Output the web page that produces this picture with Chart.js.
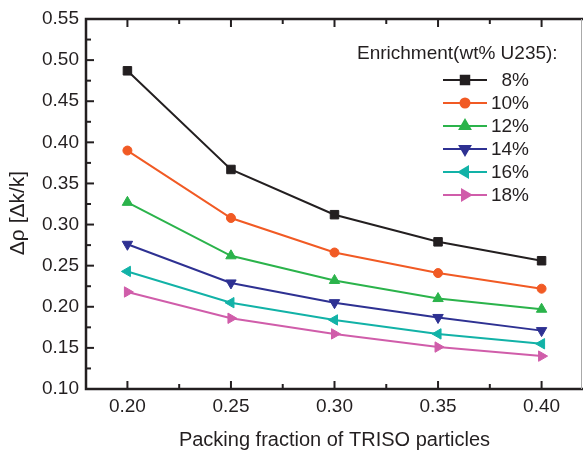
<!DOCTYPE html>
<html>
<head>
<meta charset="utf-8">
<script src="https://cdn.jsdelivr.net/npm/chart.js@4.4.0/dist/chart.umd.min.js"></script>
<style>
  html, body { margin: 0; padding: 0; background: #fff; }
</style>
</head>
<body>
<canvas id="myChart" width="583" height="453"></canvas>
<script>
var packing = [0.20, 0.25, 0.30, 0.35, 0.40];
var enrich8 = [0.487, 0.367, 0.312, 0.279, 0.256];
var enrich10 = [0.390, 0.308, 0.266, 0.241, 0.222];
var enrich12 = [0.327, 0.262, 0.232, 0.210, 0.197];
var enrich14 = [0.276, 0.229, 0.205, 0.187, 0.171];
var enrich16 = [0.243, 0.205, 0.184, 0.167, 0.155];
var enrich18 = [0.218, 0.186, 0.167, 0.151, 0.140];

var seriesLabels = ['8%', '10%', '12%', '14%', '16%', '18%'];
var legendTitle = 'Enrichment(wt% U235):';
var yTitle = 'Δρ [Δk/k]';

var xTicks = [0.20, 0.25, 0.30, 0.35, 0.40];
var xTickLabels = ['0.20', '0.25', '0.30', '0.35', '0.40'];
var xMinor = [0.225, 0.275, 0.325, 0.375];
var yTicks = [0.10, 0.15, 0.20, 0.25, 0.30, 0.35, 0.40, 0.45, 0.50, 0.55];
var yTickLabels = ['0.10', '0.15', '0.20', '0.25', '0.30', '0.35', '0.40', '0.45', '0.50', '0.55'];
var yMinor = [0.125, 0.175, 0.225, 0.275, 0.325, 0.375, 0.425, 0.475, 0.525];

var FONT = '"Liberation Sans", Arial, Helvetica, sans-serif';
var INK = '#231f20';

function series(label, values, color, style, rotation, radius) {
  return {
    label: label,
    data: packing.map(function (x, i) { return { x: x, y: values[i] }; }),
    borderColor: color,
    backgroundColor: color,
    borderWidth: 2,
    pointStyle: style,
    pointRotation: rotation,
    pointRadius: radius,
    pointBorderWidth: 1,
    pointBorderColor: color,
    pointBackgroundColor: color,
    tension: 0,
    clip: false
  };
}

var datasets = [
  series(seriesLabels[0], enrich8, '#231f20', 'rect', 0, 6),
  series(seriesLabels[1], enrich10, '#f15a24', 'circle', 0, 4.5),
  series(seriesLabels[2], enrich12, '#2bb34b', 'triangle', 0, 6),
  series(seriesLabels[3], enrich14, '#2e3192', 'triangle', 180, 6),
  series(seriesLabels[4], enrich16, '#12b2a7', 'triangle', 270, 6),
  series(seriesLabels[5], enrich18, '#d05daa', 'triangle', 90, 6)
];

// frame + inward ticks like the original plot
var framePlugin = {
  id: 'frame',
  afterDraw: function (chart) {
    var ctx = chart.ctx;
    var a = chart.chartArea;
    var xs = chart.scales.x, ys = chart.scales.y;
    ctx.save();
    ctx.strokeStyle = INK;
    ctx.lineWidth = 2;
    xTicks.forEach(function (v) {
      var px = xs.getPixelForValue(v);
      ctx.beginPath(); ctx.moveTo(px, a.bottom); ctx.lineTo(px, a.bottom - 8); ctx.stroke();
      ctx.beginPath(); ctx.moveTo(px, a.top); ctx.lineTo(px, a.top + 8); ctx.stroke();
    });
    xMinor.forEach(function (v) {
      var px = xs.getPixelForValue(v);
      ctx.beginPath(); ctx.moveTo(px, a.bottom); ctx.lineTo(px, a.bottom - 5); ctx.stroke();
      ctx.beginPath(); ctx.moveTo(px, a.top); ctx.lineTo(px, a.top + 5); ctx.stroke();
    });
    yTicks.forEach(function (v) {
      var py = ys.getPixelForValue(v);
      ctx.beginPath(); ctx.moveTo(a.left, py); ctx.lineTo(a.left + 8, py); ctx.stroke();
    });
    yMinor.forEach(function (v) {
      var py = ys.getPixelForValue(v);
      ctx.beginPath(); ctx.moveTo(a.left, py); ctx.lineTo(a.left + 5, py); ctx.stroke();
    });
    ctx.lineWidth = 2.5;
    ctx.beginPath();
    ctx.moveTo(a.right, a.top);
    ctx.lineTo(a.left, a.top);
    ctx.lineTo(a.left, a.bottom);
    ctx.lineTo(a.right, a.bottom);
    ctx.stroke();
    ctx.strokeStyle = '#aaaaaa';
    ctx.lineWidth = 1;
    ctx.beginPath(); ctx.moveTo(a.right - 1.5, a.top); ctx.lineTo(a.right - 1.5, a.bottom); ctx.stroke();

    // y axis title, sitting a bit below the axis middle as in the original
    ctx.translate(18, 213);
    ctx.rotate(-Math.PI / 2);
    ctx.font = '21px ' + FONT;
    ctx.fillStyle = INK;
    ctx.textAlign = 'center';
    ctx.textBaseline = 'middle';
    ctx.fillText(yTitle, 0, 0);
    ctx.restore();
  }
};

// legend inside the plot, like the original
var legendPlugin = {
  id: 'insideLegend',
  afterDatasetsDraw: function (chart) {
    var ctx = chart.ctx;
    ctx.save();
    ctx.font = '19px ' + FONT;
    ctx.fillStyle = INK;
    ctx.textBaseline = 'middle';
    ctx.textAlign = 'left';
    ctx.fillText(legendTitle, 357, 54);
    chart.data.datasets.forEach(function (ds, i) {
      var y = 80 + i * 23;
      ctx.strokeStyle = ds.borderColor;
      ctx.lineWidth = 2;
      ctx.beginPath(); ctx.moveTo(443, y); ctx.lineTo(487, y); ctx.stroke();
      ctx.fillStyle = ds.borderColor;
      Chart.helpers.drawPoint(ctx, {
        pointStyle: ds.pointStyle,
        radius: ds.pointRadius,
        rotation: ds.pointRotation,
        borderWidth: 1
      }, 465, y);
      ctx.fillStyle = INK;
      ctx.textAlign = 'right';
      ctx.fillText(ds.label, 529, y + 1);
    });
    ctx.restore();
  }
};

var ctx = document.getElementById('myChart').getContext('2d');
var chart = new Chart(ctx, {
  type: 'line',
  data: { datasets: datasets },
  options: {
    responsive: false,
    animation: false,
    devicePixelRatio: 1,
    layout: { autoPadding: false, padding: { top: 19, right: 0, bottom: 0, left: 0 } },
    plugins: {
      legend: { display: false },
      tooltip: { enabled: false }
    },
    scales: {
      x: {
        type: 'linear',
        position: 'bottom',
        min: 0.18,
        max: 0.42,
        grid: { display: false, drawTicks: false },
        border: { display: false },
        afterBuildTicks: function (scale) {
          scale.ticks = xTicks.map(function (v) { return { value: v }; });
        },
        afterFit: function (scale) {
          scale.height = 64;
          scale.paddingLeft = 0;
          scale.paddingRight = 0;
        },
        ticks: {
          color: INK,
          font: { family: FONT, size: 19 },
          padding: 6,
          maxRotation: 0,
          callback: function (value) {
            var i = xTicks.indexOf(value);
            return i >= 0 ? xTickLabels[i] : '';
          }
        },
        title: {
          display: true,
          text: 'Packing fraction of TRISO particles',
          color: INK,
          font: { family: FONT, size: 20 },
          padding: { top: 0, bottom: 1 }
        }
      },
      y: {
        min: 0.10,
        max: 0.55,
        grid: { display: false, drawTicks: false },
        border: { display: false },
        afterBuildTicks: function (scale) {
          scale.ticks = yTicks.map(function (v) { return { value: v }; });
        },
        afterFit: function (scale) {
          scale.width = 86;
          scale.paddingTop = 0;
          scale.paddingBottom = 0;
        },
        ticks: {
          color: INK,
          font: { family: FONT, size: 19 },
          padding: 7,
          callback: function (value) {
            var i = yTicks.indexOf(value);
            return i >= 0 ? yTickLabels[i] : '';
          }
        }
      }
    }
  },
  plugins: [framePlugin, legendPlugin]
});
</script>
</body>
</html>
